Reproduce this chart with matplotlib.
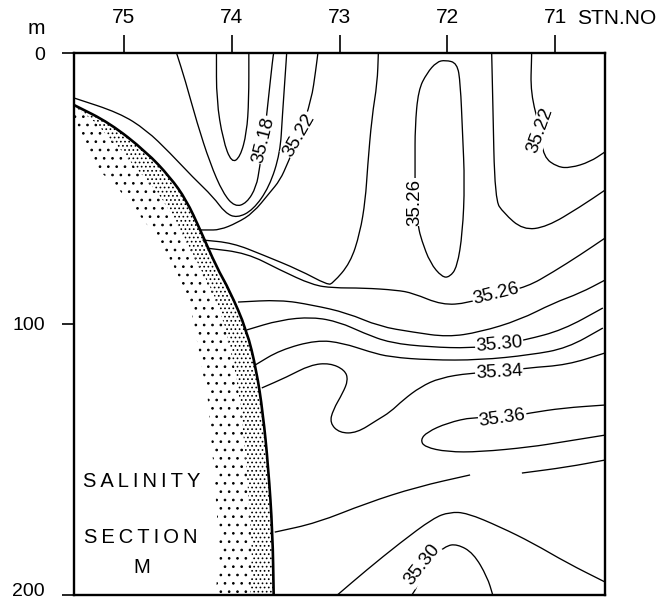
import numpy as np
import matplotlib
matplotlib.use("Agg")
import matplotlib.pyplot as plt
from matplotlib.path import Path
from matplotlib.patches import PathPatch
from matplotlib.transforms import ScaledTranslation

plt.rcParams['font.family'] = ['Liberation Sans', 'DejaVu Sans']
plt.rcParams['hatch.linewidth'] = 0.7

# station ticks along the top, depth ticks on the left
stations = [75, 74, 73, 72, 71]
station_labels = ['75', '74', '73', '72', '71']
depths = [0, 100, 200]

# shelf / bottom profile and inner edge of the stippled sediment
shelf_stn = [75.46, 75.13, 74.79, 74.57, 74.42, 74.29, 74.14, 74.02, 73.86, 73.77, 73.71, 73.66, 73.62, 73.61]
shelf_dep = [19.2, 25.8, 36.5, 45.8, 54.2, 65.3, 79.0, 87.5, 102.2, 117.0, 132.8, 152.8, 177.1, 200.0]
stip_stn = [75.46, 75.46, 75.41, 75.25, 75.04, 74.78, 74.55, 74.39, 74.31, 74.22, 74.17, 74.11, 74.15]
stip_dep = [19.2, 24.0, 30.9, 42.4, 50.6, 63.5, 77.5, 91.1, 108.5, 128.0, 151.3, 184.5, 200.0]

# isohalines (station, depth in m)
c1_stn = [74.51, 74.43, 74.32, 74.20, 74.08, 73.97, 73.86, 73.77, 73.74, 73.70, 73.66, 73.62, 73.61]
c1_dep = [0, 10.0, 25.8, 40.6, 51.7, 56.8, 55.4, 49.4, 42.1, 32.1, 17.3, 2.6, 0]
c2_stn = [74.14, 74.14, 74.08, 74.00, 73.92, 73.86, 73.84, 73.84]
c2_dep = [0, 17.3, 32.1, 40.6, 38.4, 29.5, 17.3, 0]
c3_stn = [75.46, 75.04, 74.79, 74.57, 74.36, 74.17, 74.06, 73.95, 73.80, 73.65, 73.55, 73.53, 73.49, 73.49]
c3_dep = [16.6, 22.1, 28.4, 36.9, 45.8, 53.1, 59.0, 60.9, 57.9, 49.4, 36.9, 23.6, 0.7, 0]
c4_stn = [73.20, 73.22, 73.26, 73.37, 73.48, 73.55, 73.65, 73.80, 73.95, 74.11, 74.23, 74.29]
c4_dep = [0, 6.3, 17.3, 30.3, 40.6, 46.9, 51.7, 59.0, 62.7, 65.3, 65.3, 65.3]
c5_stn = [74.27, 73.99, 73.71, 73.37, 73.11, 73.06, 72.90, 72.81, 72.76, 72.74, 72.70, 72.65, 72.64]
c5_dep = [69.0, 70.1, 74.5, 80.1, 85.6, 84.9, 77.5, 66.4, 54.2, 42.1, 23.6, 11.1, 0]
c6_stn = [74.23, 73.86, 73.55, 73.25, 73.06, 72.78, 72.47, 72.32, 72.05, 71.81, 71.55, 71.26, 71.02, 70.77, 70.54]
c6_dep = [72.0, 73.8, 80.1, 85.6, 86.7, 86.7, 87.5, 88.6, 93.0, 92.3, 88.9, 86.3, 80.8, 74.5, 68.3]
c7_stn = [72.02, 71.91, 71.88, 71.86, 71.84, 71.86, 71.91, 71.98, 72.05, 72.16, 72.24, 72.27, 72.30, 72.30, 72.30, 72.27, 72.19, 72.10]
c7_dep = [2.6, 3.7, 11.1, 29.5, 48.0, 66.4, 79.0, 82.7, 82.7, 77.5, 69.0, 64.2, 55.0, 40.6, 27.3, 13.7, 7.4, 3.3]
c8_stn = [71.59, 71.58, 71.56, 71.48, 71.30, 71.08, 70.77, 70.54]
c8_dep = [0, 17.3, 54.2, 59.0, 65.3, 64.2, 56.8, 50.6]
c9_stn = [71.22, 71.22, 71.23, 71.14, 71.11, 70.98, 70.86, 70.68, 70.54]
c9_dep = [0, 1.5, 14.8, 28.4, 38.4, 42.1, 42.4, 40.2, 36.5]
c10_stn = [73.94, 73.55, 73.25, 72.93, 72.63, 72.32, 72.00, 71.70, 71.33, 71.02, 70.77, 70.54]
c10_dep = [91.9, 91.1, 93.0, 95.9, 100.9, 103.0, 104.8, 103.0, 98.5, 92.3, 88.6, 83.8]
c11_stn = [73.86, 73.55, 73.25, 73.00, 72.78, 72.53, 72.16, 71.79, 71.52, 71.28, 70.93, 70.56]
c11_dep = [102.2, 98.5, 97.4, 99.3, 103.3, 107.0, 108.5, 108.9, 107.7, 105.9, 102.2, 94.1]
c12_stn = [73.78, 73.55, 73.21, 72.97, 72.72, 72.53, 72.16, 71.70, 71.23, 70.89, 70.56]
c12_dep = [115.1, 109.6, 105.9, 107.0, 110.3, 112.2, 113.3, 113.3, 111.4, 108.9, 101.5]
c13_stn = [73.72, 73.49, 73.27, 73.09, 72.95, 72.92, 72.97, 73.06, 73.09, 73.00, 72.84, 72.65, 72.53, 72.41, 72.25, 72.07, 71.79, 71.52, 71.26, 70.89, 70.54]
c13_dep = [123.6, 119.6, 115.1, 114.4, 117.0, 120.7, 125.5, 131.7, 136.5, 140.2, 140.2, 135.4, 132.5, 128.0, 123.2, 119.9, 118.1, 117.7, 116.2, 115.1, 110.7]
c14_stn = [70.54, 70.93, 71.23, 71.49, 71.76, 72.00, 72.19, 72.25, 72.21, 72.00, 71.70, 71.23, 70.93, 70.54]
c14_dep = [129.9, 131.0, 132.8, 134.7, 134.3, 136.5, 139.9, 142.8, 145.4, 147.2, 147.2, 145.4, 143.5, 141.0]
c15a_stn = [73.60, 73.21, 72.75, 72.28, 71.79]
c15a_dep = [176.8, 173.4, 166.1, 160.1, 155.7]
c15b_stn = [71.31, 70.89, 70.54]
c15b_dep = [155.0, 152.8, 150.2]
c16_stn = [73.02, 72.75, 72.44, 72.13, 71.98, 71.82, 71.51, 71.21, 70.89, 70.54]
c16_dep = [200, 190.8, 180.8, 171.6, 169.4, 169.7, 174.9, 180.8, 188.2, 195.2]
c17_stn = [72.33, 72.28, 72.23, 72.02, 71.91, 71.76, 71.63, 71.58]
c17_dep = [200, 197.0, 188.9, 181.9, 181.2, 184.5, 193.4, 200]

# contour labels: text, station, depth, angle
label_text = ['35.18', '35.22', '35.26', '35.26', '35.22', '35.30', '35.34', '35.36', '35.30']
label_stn = [73.70, 73.37, 72.30, 71.55, 71.14, 71.52, 71.52, 71.49, 72.23]
label_dep = [32.1, 30.3, 55.0, 88.9, 28.4, 107.7, 117.7, 134.7, 188.9]
label_rot = [76, 60, 90, 14, 70, 5, 3, 8, 52]

open_lines = [(c1_stn, c1_dep), (c2_stn, c2_dep), (c3_stn, c3_dep), (c4_stn, c4_dep),
              (c5_stn, c5_dep), (c6_stn, c6_dep), (c8_stn, c8_dep), (c9_stn, c9_dep),
              (c10_stn, c10_dep), (c11_stn, c11_dep), (c12_stn, c12_dep), (c13_stn, c13_dep),
              (c14_stn, c14_dep), (c15a_stn, c15a_dep), (c15b_stn, c15b_dep),
              (c16_stn, c16_dep), (c17_stn, c17_dep)]
closed_lines = [(c7_stn, c7_dep)]


def smooth_path(xs, ys, closed=False):
    # quadratic bezier through midpoints, the read points act as control points
    pts = np.column_stack([xs, ys])
    if closed:
        pts = np.vstack([pts, pts[:2]])
        mids = (pts[:-1] + pts[1:]) / 2
        verts = [mids[0]]
        codes = [Path.MOVETO]
        for i in range(1, len(pts) - 1):
            verts += [pts[i], mids[i]]
            codes += [Path.CURVE3, Path.CURVE3]
        return Path(verts, codes)
    if len(pts) < 3:
        return Path(pts)
    mids = (pts[:-1] + pts[1:]) / 2
    verts = [pts[0], mids[0]]
    codes = [Path.MOVETO, Path.LINETO]
    for i in range(1, len(pts) - 1):
        verts += [pts[i], mids[i]]
        codes += [Path.CURVE3, Path.CURVE3]
    verts.append(pts[-1])
    codes.append(Path.LINETO)
    return Path(verts, codes)


fig = plt.figure(figsize=(6.68, 6.02), dpi=100)
ax = fig.add_axes([74 / 668, 7 / 602, 531 / 668, 542 / 602])
ax.set_xlim(75.46, 70.54)
ax.set_ylim(200, 0)

# stippled sediment next to the shelf
dgrid = np.linspace(shelf_dep[0], 200, 300)
x_shelf = np.interp(dgrid, shelf_dep, shelf_stn)
x_inner = np.interp(dgrid, stip_dep, stip_stn)
x_mid = x_shelf + 0.4 * (x_inner - x_shelf)
ax.fill_betweenx(dgrid, x_shelf, x_mid, facecolor='none', edgecolor='black', hatch='....', linewidth=0)
ax.fill_betweenx(dgrid, x_mid, x_inner, facecolor='none', edgecolor='black', hatch='..', linewidth=0)
ax.add_patch(PathPatch(smooth_path(shelf_stn, shelf_dep), fill=False, edgecolor='black',
                       lw=1.9, capstyle='butt'))

for stn, dep in open_lines:
    ax.add_patch(PathPatch(smooth_path(stn, dep), fill=False, edgecolor='black', lw=0.95))
for stn, dep in closed_lines:
    ax.add_patch(PathPatch(smooth_path(stn, dep, closed=True), fill=False, edgecolor='black', lw=0.95))

for t, s, d, r in zip(label_text, label_stn, label_dep, label_rot):
    ax.text(s, d, t, rotation=r, ha='center', va='center', fontsize=13.5,
            rotation_mode='anchor',
            bbox=dict(facecolor='white', edgecolor='none', pad=0.6))

ax.text(74.83, 158.3, 'S\u2009A\u2009L\u2009I\u2009N\u2009I\u2009T\u2009Y', ha='center', va='center', fontsize=14.5)
ax.text(74.84, 178.6, 'S\u2009E\u2009C\u2009T\u2009I\u2009O\u2009N', ha='center', va='center', fontsize=14.5)
ax.text(74.83, 189.7, 'M', ha='center', va='center', fontsize=14.5)

ax.xaxis.tick_top()
ax.set_xticks(stations)
ax.set_xticklabels(station_labels)
ax.set_yticks(depths)
ax.set_yticklabels([str(d) for d in depths])
ax.tick_params(axis='x', direction='out', length=13, width=1.2, pad=6, labelsize=15)
ax.tick_params(axis='y', direction='out', length=9, width=1.2, pad=12, labelsize=14)
for sp in ax.spines.values():
    sp.set_linewidth(1.7)

# keep the bottom depth label inside the figure
last = ax.get_yticklabels()[-1]
last.set_transform(last.get_transform() + ScaledTranslation(0, 4 / 72, fig.dpi_scale_trans))

fig.text(577 / 668, 1 - 18 / 602, 'STN.NO', ha='left', va='center', fontsize=15)
fig.text(36 / 668, 1 - 29 / 602, 'm', ha='center', va='center', fontsize=15)

fig.savefig('out.png', dpi=100)
